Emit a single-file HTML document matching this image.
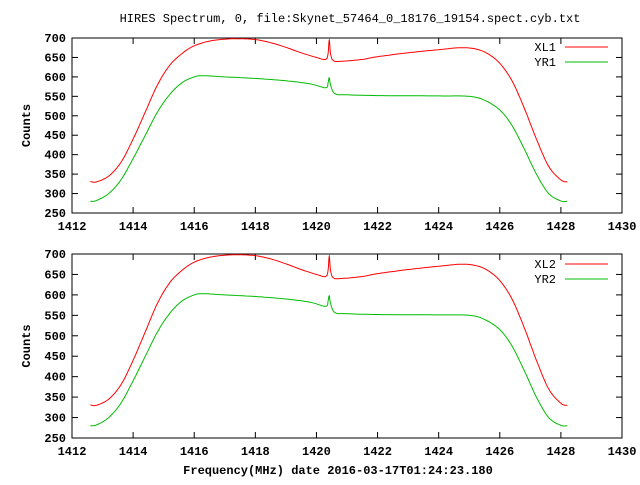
<!DOCTYPE html><html><head><style>body{margin:0;background:#fff}svg{font-family:"Liberation Mono",monospace;font-size:12px;font-weight:bold}</style></head><body>
<svg id="s" width="640" height="480" xmlns="http://www.w3.org/2000/svg"></svg>
<script>
const s=document.getElementById('s');let h='';
h+='<text x="350" y="22" text-anchor="middle" font-weight="normal">HIRES Spectrum, 0, file:Skynet_57464_0_18176_19154.spect.cyb.txt</text>';
h+='<text x="338" y="474" text-anchor="middle">Frequency(MHz) date 2016-03-17T01:24:23.180</text>';
const R=[[1412.6,331],[1412.8,330],[1413.2,345],[1413.6,380],[1414,440],[1414.4,510],[1414.8,580],[1415.2,630],[1415.6,660],[1416,680],[1416.5,692],[1417,697],[1417.5,698],[1418,696],[1418.5,688],[1419,676],[1419.5,662],[1420,650],[1420.3,645],[1420.38,660],[1420.42,695],[1420.46,660],[1420.55,642],[1420.8,640],[1421.5,645],[1422,652],[1423,662],[1424,670],[1424.7,675],[1425.2,672],[1425.6,660],[1426,635],[1426.4,590],[1426.8,520],[1427.2,440],[1427.6,370],[1428,335],[1428.2,330]];
const G=[[1412.6,280],[1412.8,282],[1413.2,300],[1413.6,335],[1414,390],[1414.4,450],[1414.8,510],[1415.2,555],[1415.6,585],[1416,600],[1416.3,603],[1417,600],[1418,596],[1419,590],[1419.8,582],[1420.3,572],[1420.38,585],[1420.42,598],[1420.46,580],[1420.6,557],[1421,554],[1422,552],[1424,551],[1425,550],[1425.5,540],[1426,515],[1426.4,475],[1426.8,415],[1427.2,350],[1427.6,300],[1428,281],[1428.2,280]];
function path(P,X,Y){let d='';for(let i=0;i<P.length-1;i++){const p0=P[Math.max(0,i-1)],p1=P[i],p2=P[i+1],p3=P[Math.min(P.length-1,i+2)];for(let t=0;t<1;t+=0.1){const t2=t*t,t3=t2*t;const f=(a,b,c,e)=>0.5*(2*b+(-a+c)*t+(2*a-5*b+4*c-e)*t2+(-a+3*b-3*c+e)*t3);d+=(d?'L':'M')+X(f(p0[0],p1[0],p2[0],p3[0])).toFixed(1)+','+Y(f(p0[1],p1[1],p2[1],p3[1])).toFixed(1);}}const l=P[P.length-1];d+='L'+X(l[0])+','+Y(l[1]);return d;}
function plot(top,bot,n,lx){const L=72,Rr=622;const X=v=>L+(v-1412)*(Rr-L)/18,Y=v=>bot-(v-250)*(bot-top)/450;
h+=`<rect x="${L}" y="${top}" width="${Rr-L}" height="${bot-top}" fill="none" stroke="#000"/>`;
for(let v=250;v<=700;v+=50){const y=Y(v);h+=`<line x1="${L}" x2="${L+6}" y1="${y}" y2="${y}" stroke="#000"/><line x1="${Rr}" x2="${Rr-6}" y1="${y}" y2="${y}" stroke="#000"/><text x="${L-6}" y="${y+4}" text-anchor="end">${v}</text>`;}
for(let v=1412;v<=1430;v+=2){const x=X(v);h+=`<line x1="${x}" x2="${x}" y1="${bot}" y2="${bot-6}" stroke="#000"/><line x1="${x}" x2="${x}" y1="${top}" y2="${top+6}" stroke="#000"/><text x="${x}" y="${bot+17}" text-anchor="middle">${v}</text>`;}
h+=`<text transform="translate(30,${(top+bot)/2}) rotate(-90)" text-anchor="middle">Counts</text>`;
h+=`<path d="${path(R,X,Y)}" fill="none" stroke="#f00"/><path d="${path(G,X,Y)}" fill="none" stroke="#0b0"/>`;
h+=`<text x="556" y="${lx+4}" text-anchor="end" font-weight="normal">XL${n}</text><line x1="565" x2="608" y1="${lx}" y2="${lx}" stroke="#f00"/>`;
h+=`<text x="556" y="${lx+19}" text-anchor="end" font-weight="normal">YR${n}</text><line x1="565" x2="608" y1="${lx+15}" y2="${lx+15}" stroke="#0b0"/>`;}
plot(38,213,1,47);plot(254,438,2,264);
s.innerHTML=h;
</script></body></html>
